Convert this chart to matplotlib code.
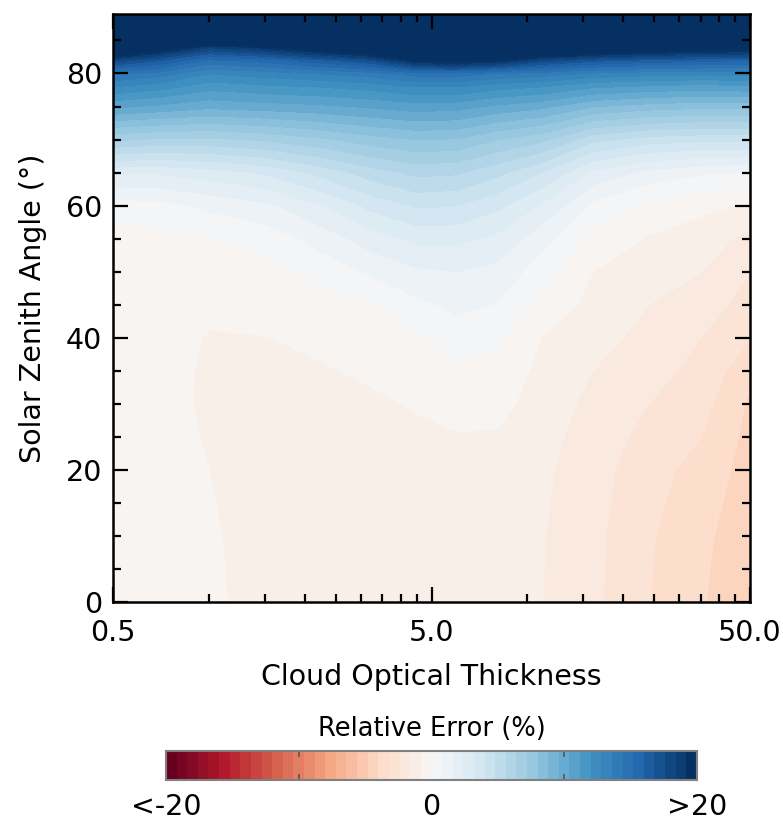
import numpy as np
import matplotlib
matplotlib.use("Agg")
import matplotlib.pyplot as plt
from matplotlib.colors import BoundaryNorm
from matplotlib.cm import ScalarMappable
from matplotlib.ticker import FixedLocator, NullFormatter, MultipleLocator

plt.rcParams['font.family'] = ['DejaVu Sans']

# ---- data ----
cot = [0.5, 0.7, 1.0, 1.5, 2.2, 3.2, 4.5, 6.0, 8.0, 11.0, 16.0, 24.0, 35.0, 50.0]
sza = [0, 10, 20, 25, 30, 35, 40, 45, 50, 55, 60, 65, 70, 75, 78, 80, 82, 84, 86, 89]

# relative error (%) ; one row per solar zenith angle, one column per optical thickness
rel_error = [
    [-0.50, -0.62, -0.70, -1.05, -1.10, -1.15, -1.20, -1.30, -1.42, -1.58, -2.25, -3.18, -3.95, -4.50],  # 0
    [-0.50, -0.62, -0.74, -1.05, -1.10, -1.15, -1.20, -1.28, -1.40, -1.55, -2.22, -3.12, -3.85, -4.50],  # 10
    [-0.50, -0.62, -0.80, -1.05, -1.10, -1.15, -1.15, -1.12, -1.20, -1.45, -2.10, -2.95, -3.50, -4.40],  # 20
    [-0.50, -0.62, -0.85, -1.05, -1.08, -1.10, -1.00, -0.86, -0.88, -1.35, -1.98, -2.70, -3.20, -4.30],  # 25
    [-0.48, -0.62, -0.90, -1.00, -1.00, -0.95, -0.72, -0.50, -0.55, -1.20, -1.82, -2.40, -2.95, -4.15],  # 30
    [-0.46, -0.60, -0.90, -0.95, -0.88, -0.68, -0.45, -0.18, -0.28, -1.02, -1.60, -2.12, -2.68, -3.80],  # 35
    [-0.44, -0.55, -0.85, -0.82, -0.65, -0.40, -0.12, 0.35, 0.15, -0.80, -1.35, -1.86, -2.40, -3.20],    # 40
    [-0.40, -0.45, -0.65, -0.55, -0.30, -0.10, 0.60, 1.00, 0.75, -0.25, -1.08, -1.60, -2.00, -2.80],     # 45
    [-0.34, -0.35, -0.40, -0.20, 0.25, 0.90, 1.45, 1.60, 1.35, 0.35, -0.80, -1.28, -1.60, -2.40],        # 50
    [-0.30, -0.20, -0.05, 0.30, 1.10, 2.00, 2.60, 2.60, 2.20, 1.10, -0.25, -0.88, -1.25, -1.85],         # 55
    [0.35, 0.50, 1.00, 1.40, 2.30, 3.40, 4.10, 4.00, 3.40, 2.30, 0.60, -0.25, -0.60, -0.95],             # 60
    [2.50, 2.50, 2.80, 3.30, 4.20, 5.20, 5.80, 5.70, 5.00, 4.00, 2.20, 1.30, 0.90, 0.70],                # 65
    [6.50, 6.20, 6.20, 6.50, 7.00, 7.60, 8.00, 7.90, 7.20, 6.60, 5.00, 4.40, 4.20, 4.20],                # 70
    [10.5, 10.2, 9.8, 10.0, 10.2, 10.5, 10.8, 10.7, 10.2, 9.8, 8.8, 8.4, 8.2, 8.2],                      # 75
    [12.8, 12.3, 11.5, 11.8, 12.0, 12.3, 12.8, 12.8, 12.3, 12.0, 11.3, 11.0, 10.8, 11.0],                # 78
    [14.5, 14.0, 12.8, 13.2, 13.6, 14.0, 14.8, 14.8, 14.3, 14.0, 13.4, 13.1, 13.0, 13.0],                # 80
    [18.0, 16.8, 15.0, 15.5, 16.5, 17.5, 20.0, 20.5, 19.8, 18.0, 17.0, 16.5, 16.2, 16.0],                # 82
    [24.0, 21.0, 18.5, 19.5, 21.0, 22.5, 25.0, 26.0, 24.0, 23.5, 22.5, 21.5, 21.0, 20.8],                # 84
    [32.0, 30.0, 26.0, 27.0, 28.0, 30.0, 33.0, 34.0, 32.0, 31.0, 30.0, 29.0, 28.0, 28.0],                # 86
    [40.0, 40.0, 40.0, 40.0, 40.0, 42.0, 45.0, 45.0, 44.0, 43.0, 42.0, 40.0, 40.0, 40.0],                # 89
]

x_ticks = [0.5, 5.0, 50.0]
x_tick_labels = ['0.5', '5.0', '50.0']
x_minor_ticks = [1.0, 1.5, 2.0, 2.5, 3.0, 3.5, 4.0, 4.5, 10, 15, 20, 25, 30, 35, 40, 45]
y_ticks = [0, 20, 40, 60, 80]
cbar_ticks = [-20, 0, 20]
cbar_tick_labels = ['<-20', '0', '>20']
cbar_minor = [-10, 0, 10]

levels = np.linspace(-20, 20, 51)
cmap = plt.get_cmap('RdBu')
FS = 20.5

fig = plt.figure(figsize=(7.83, 8.21), dpi=100)
ax = fig.add_axes([0.1443, 0.2667, 0.8136, 0.7162])

X, Y = np.meshgrid(cot, sza)
Z = np.array(rel_error)
cs = ax.contourf(X, Y, Z, levels=levels, cmap=cmap, extend='both')
cs.set_edgecolor('face')
cs.set_linewidth(0.4)

ax.set_xscale('log')
ax.set_xlim(0.5, 50)
ax.set_ylim(0, 89)

ax.xaxis.set_major_locator(FixedLocator(x_ticks))
ax.set_xticklabels(x_tick_labels)
ax.xaxis.set_minor_locator(FixedLocator(x_minor_ticks))
ax.xaxis.set_minor_formatter(NullFormatter())
ax.set_yticks(y_ticks)
ax.yaxis.set_minor_locator(MultipleLocator(5))

ax.tick_params(which='both', direction='in', top=True, right=True, width=1.6, colors='black',
               labelsize=FS)
ax.tick_params(axis='x', which='major', pad=12)
ax.tick_params(axis='y', which='major', pad=8)
ax.tick_params(which='major', length=11)
ax.tick_params(which='minor', length=6)
for sp in ax.spines.values():
    sp.set_linewidth(1.8)

ax.set_xlabel('Cloud Optical Thickness', fontsize=FS, labelpad=12)
ax.set_ylabel('Solar Zenith Angle (°)', fontsize=FS, labelpad=13)

# colour bar
cax = fig.add_axes([0.212, 0.0499, 0.678, 0.0353])
sm = ScalarMappable(norm=BoundaryNorm(levels, 256), cmap=cmap)
cb = fig.colorbar(sm, cax=cax, orientation='horizontal')
cb.outline.set_edgecolor('#808080')
cb.outline.set_linewidth(1.5)
cb.set_ticks(cbar_ticks)
cb.set_ticklabels(cbar_tick_labels)
cax.tick_params(which='major', length=0, labelsize=FS, pad=9)
cax.xaxis.set_minor_locator(FixedLocator(cbar_minor))
cax.tick_params(which='minor', direction='in', top=True, bottom=True, length=4, width=1.2,
                color='#555555')
cax.set_title('Relative Error (%)', fontsize=18.5, pad=11)

fig.savefig('out.png', dpi=100)
